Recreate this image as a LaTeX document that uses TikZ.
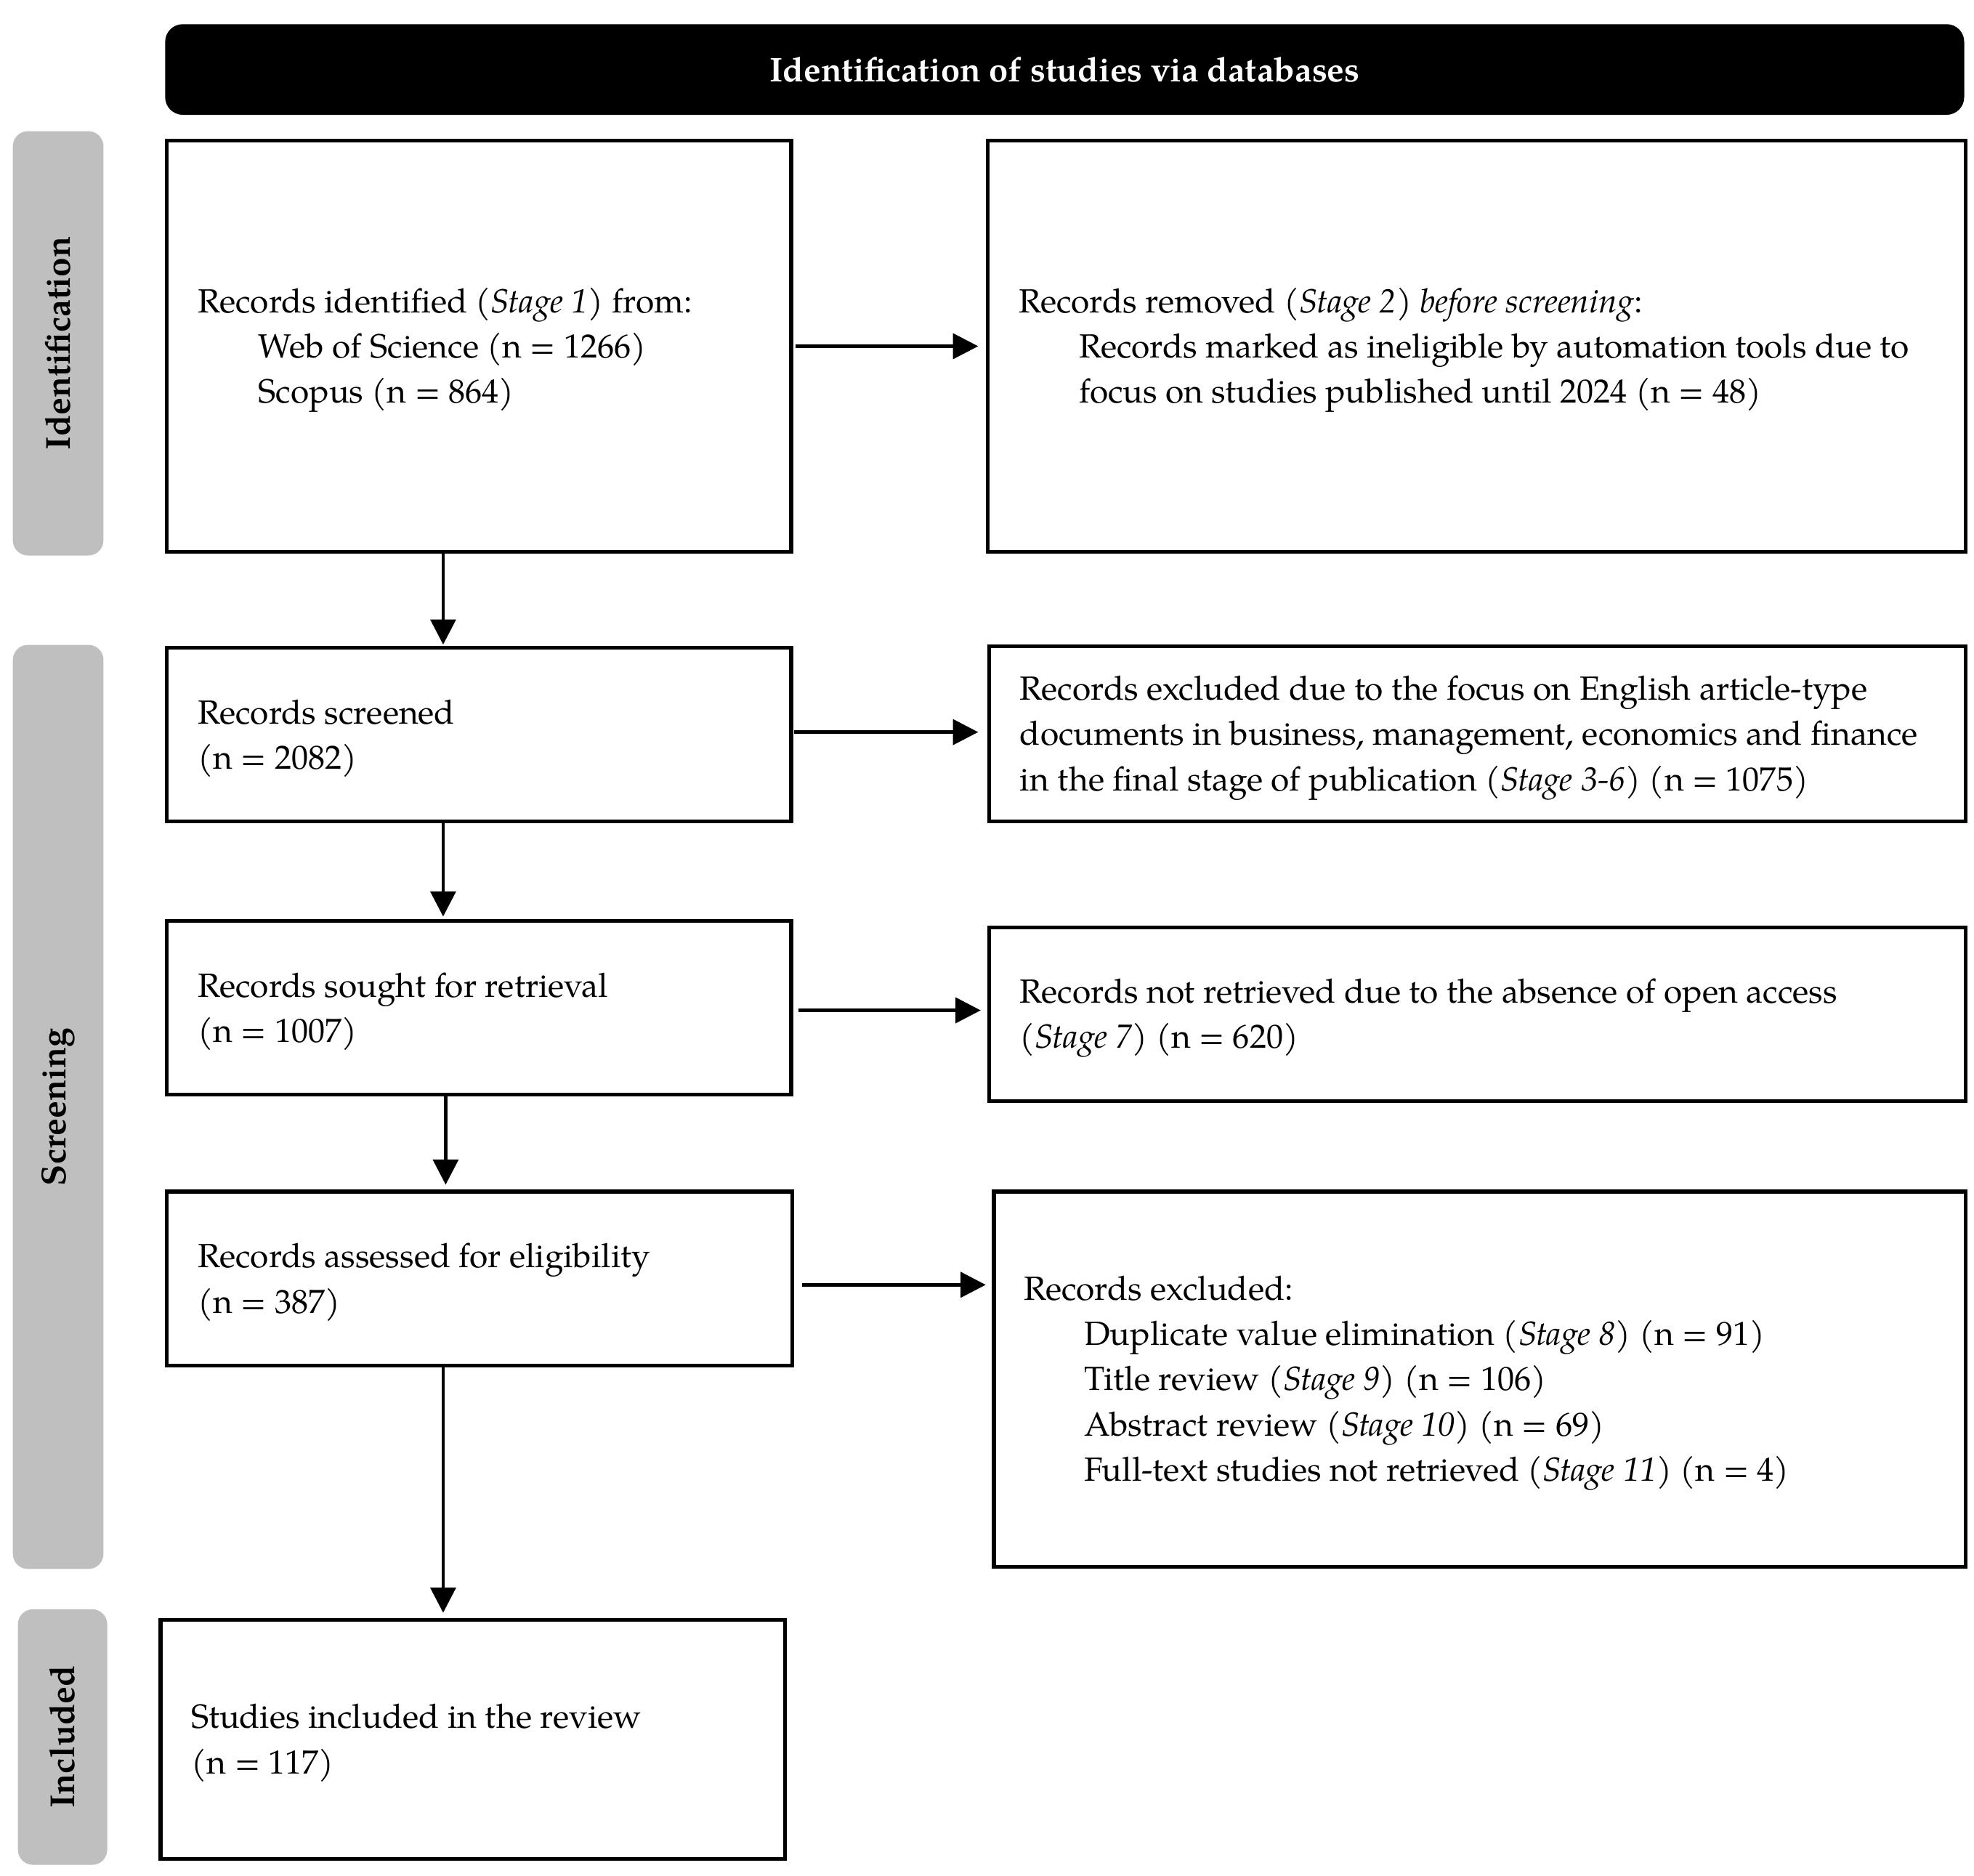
\documentclass[tikz,border=0pt]{standalone}
\usepackage{fontspec}
\setmainfont{TeX Gyre Pagella}
\usetikzlibrary{arrows.meta}
\begin{document}
\begin{tikzpicture}[x=1pt,y=-1pt,
  box/.style={draw=black, line width=3pt, fill=white, anchor=north west, inner sep=0pt},
  side/.style={fill=black!25, rounded corners=12pt, anchor=north west, inner sep=0pt, draw=none},
  txt/.style={anchor=west, align=left, inner sep=0pt, yshift=-3pt, font=\fontsize{26.6}{36}\selectfont},
  sidetxt/.style={rotate=90, font=\fontsize{27.5}{30}\selectfont\bfseries, inner sep=0pt},
  arr/.style={line width=2.7pt, -{Triangle[length=20pt,width=20pt]}}
]
\useasboundingbox (0,0) rectangle (1568,1490);

% header
\node[fill=black, rounded corners=14pt, anchor=north west, minimum width=1429pt, minimum height=72pt, inner sep=0pt] (hdr) at (131,19) {};
\node[text=white, font=\fontsize{27.2}{30}\selectfont\bfseries, inner sep=0pt] (hdrt) at (hdr.center) {Identification of studies via databases};

% side labels
\node[side, minimum width=72pt, minimum height=337pt] (s1) at (10,104) {};
\node[sidetxt] (s1t) at (s1.center) {Identification};
\node[side, minimum width=72pt, minimum height=734pt] (s2) at (10,512) {};
\node[sidetxt] (s2t) at (s2.center) {Screening};
\node[side, minimum width=71pt, minimum height=203pt] (s3) at (14,1278) {};
\node[sidetxt] (s3t) at (s3.center) {Included};

% boxes
\node[box, minimum width=496pt, minimum height=327pt] (b1) at (131,110) {};
\node[box, minimum width=777pt, minimum height=327pt] (b2) at (783,110) {};
\node[box, minimum width=496pt, minimum height=138pt] (b3) at (131,513) {};
\node[box, minimum width=776pt, minimum height=139pt] (b4) at (784,512) {};
\node[box, minimum width=496pt, minimum height=138pt] (b5) at (131,730) {};
\node[box, minimum width=776pt, minimum height=138pt] (b6) at (784,735) {};
\node[box, minimum width=497pt, minimum height=138pt] (b7) at (131,945) {};
\node[box, minimum width=772pt, minimum height=298pt] (b8) at (788,945) {};
\node[box, minimum width=496pt, minimum height=190pt] (b9) at (126,1285) {};

% texts
\node[txt] (t1) at ([xshift=26pt]b1.west) {Records identified (\textit{Stage 1}) from:\\\hspace*{48pt}Web of Science (n = 1266)\\\hspace*{48pt}Scopus (n = 864)};
\node[txt] (t2) at ([xshift=26pt]b2.west) {Records removed (\textit{Stage 2}) \textit{before screening}:\\\hspace*{48pt}Records marked as ineligible by automation tools due to\\\hspace*{48pt}focus on studies published until 2024 (n = 48)};
\node[txt] (t3) at ([xshift=26pt]b3.west) {Records screened\\(n = 2082)};
\node[txt] (t4) at ([xshift=26pt]b4.west) {Records excluded due to the focus on English article-type\\documents in business, management, economics and finance\\in the final stage of publication (\textit{Stage 3-6}) (n = 1075)};
\node[txt] (t5) at ([xshift=26pt]b5.west) {Records sought for retrieval\\(n = 1007)};
\node[txt] (t6) at ([xshift=26pt]b6.west) {Records not retrieved due to the absence of open access\\(\textit{Stage 7}) (n = 620)};
\node[txt] (t7) at ([xshift=26pt]b7.west) {Records assessed for eligibility\\(n = 387)};
\node[txt] (t8) at ([xshift=25pt]b8.west) {Records excluded:\\\hspace*{48pt}Duplicate value elimination (\textit{Stage 8}) (n = 91)\\\hspace*{48pt}Title review (\textit{Stage 9}) (n = 106)\\\hspace*{48pt}Abstract review (\textit{Stage 10}) (n = 69)\\\hspace*{48pt}Full-text studies not retrieved (\textit{Stage 11}) (n = 4)};
\node[txt] (t9) at ([xshift=26pt]b9.west) {Studies included in the review\\(n = 117)};

% arrows
\coordinate (ax) at (352,0);
\coordinate (ax2) at (354,0);
\draw[arr, shorten <=2pt, shorten >=6pt] (b1.east) -- (b1.east -| b2.west);
\draw[arr, shorten <=1pt, shorten >=7pt] ([yshift=2pt]b3.east) -- ([yshift=2pt]b3.east -| b4.west);
\draw[arr, shorten <=4pt, shorten >=5pt] ([yshift=-2pt]b5.east) -- ([yshift=-2pt]b5.east -| b6.west);
\draw[arr, shorten <=6pt, shorten >=5pt] ([yshift=-5pt]b7.east) -- ([yshift=-5pt]b7.east -| b8.west);
\draw[arr, shorten >=1pt] (b1.south -| ax) -- (b3.north -| ax);
\draw[arr, shorten >=2pt] (b3.south -| ax) -- (b5.north -| ax);
\draw[arr, shorten >=4pt] (b5.south -| ax2) -- (b7.north -| ax2);
\draw[arr, shorten >=4pt] (b7.south -| ax) -- (b9.north -| ax);
\end{tikzpicture}
\end{document}
